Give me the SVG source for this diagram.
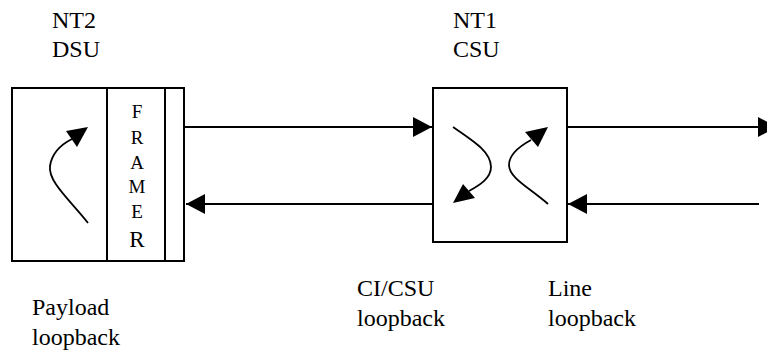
<svg xmlns="http://www.w3.org/2000/svg" width="767" height="356" viewBox="0 0 767 356">
<style>
.box{fill:#fff;stroke:#000;stroke-width:2}
.ln{fill:none;stroke:#000;stroke-width:2}
.cv{fill:none;stroke:#000;stroke-width:1.8}
.ah{fill:#000;stroke:none}
text{font-family:"Liberation Serif","Times New Roman",serif;fill:#000}
.lbl{font-size:24px}
.fr{font-size:19px;text-anchor:middle}
</style>
<defs>
<marker id="arr" markerUnits="userSpaceOnUse" markerWidth="20" markerHeight="22" refX="19" refY="10" orient="auto">
<path d="M0,0 L19,10 L0,20 Z" fill="#000"/>
</marker>
</defs>
<g id="dsu">
<rect class="box" x="12" y="88" width="172" height="173"/>
<line class="ln" x1="107" y1="88" x2="107" y2="261"/>
<line class="ln" x1="165" y1="88" x2="165" y2="261"/>
<text class="fr" x="137" y="118">F</text>
<text class="fr" x="137" y="144">R</text>
<text class="fr" x="137" y="169">A</text>
<text class="fr" x="137" y="193">M</text>
<text class="fr" x="137" y="218">E</text>
<text class="fr" x="137" y="247" style="font-size:23px">R</text>
<path class="cv" d="M88,223 C70,200 48,182 50,166 C52,153 62,144 72,139"/>
<polygon class="ah" points="88,127 66,131 77,147"/>
</g>
<g id="csu">
<rect class="box" x="433" y="88" width="134" height="154"/>
<path class="cv" d="M453,127 C475,142 491,152 491,167 C491,178 480,185 469,191"/>
<polygon class="ah" points="453,203 463,184 475,198"/>
<path class="cv" d="M548,204 C530,188 509,178 509,165 C509,155 520,146 531,140"/>
<polygon class="ah" points="548,127 525,132 538,147"/>
</g>
<g id="connectors">
<line class="ln" x1="184" y1="127" x2="432" y2="127" marker-end="url(#arr)"/>
<line class="ln" x1="432" y1="204" x2="186" y2="204" marker-end="url(#arr)"/>
<line class="ln" x1="567" y1="127" x2="777" y2="127" marker-end="url(#arr)"/>
<line class="ln" x1="759" y1="204" x2="568" y2="204" marker-end="url(#arr)"/>
</g>
<g id="labels">
<text class="lbl" x="52" y="28">NT2</text>
<text class="lbl" x="52" y="57">DSU</text>
<text class="lbl" x="453" y="28">NT1</text>
<text class="lbl" x="453" y="57">CSU</text>
<text class="lbl" x="32" y="315">Payload</text>
<text class="lbl" x="32" y="345">loopback</text>
<text class="lbl" x="357" y="296">CI/CSU</text>
<text class="lbl" x="357" y="326">loopback</text>
<text class="lbl" x="548" y="296">Line</text>
<text class="lbl" x="548" y="326">loopback</text>
</g>
</svg>
